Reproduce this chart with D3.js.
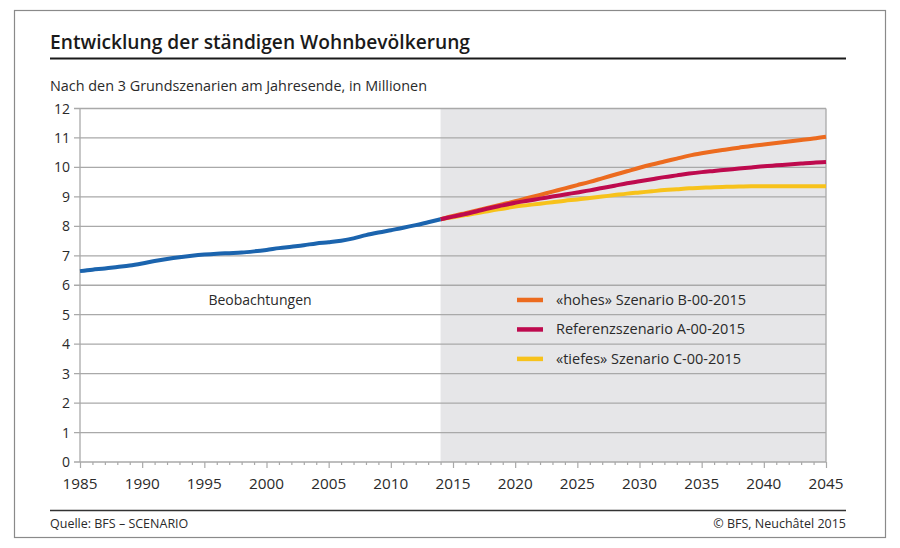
<!DOCTYPE html>
<html><head><meta charset="utf-8">
<script src="https://cdn.jsdelivr.net/npm/d3@7"></script>
<style>body{margin:0;background:#fff;} svg{display:block;font-family:"Open Sans","Noto Sans",sans-serif;}</style>
</head><body>
<svg id="c" width="900" height="548"></svg>
<script>
const obsYears = d3.range(1985, 2015);
const obsValues = [6.48,6.53,6.57,6.62,6.67,6.74,6.82,6.89,6.95,7.00,7.04,7.07,7.09,7.11,7.15,7.20,7.26,7.31,7.36,7.42,7.46,7.51,7.59,7.70,7.79,7.87,7.95,8.04,8.14,8.24];
const scenYears = d3.range(2014, 2046);
const highB = [8.24,8.35,8.45,8.55,8.65,8.75,8.85,8.96,9.07,9.18,9.29,9.40,9.51,9.63,9.75,9.87,9.99,10.1,10.2,10.3,10.4,10.48,10.55,10.61,10.67,10.73,10.78,10.83,10.88,10.93,10.98,11.04];
const refA = [8.24,8.33,8.42,8.52,8.62,8.71,8.80,8.87,8.94,9.01,9.08,9.15,9.22,9.30,9.38,9.46,9.53,9.60,9.67,9.73,9.79,9.84,9.88,9.92,9.96,10.00,10.04,10.07,10.10,10.13,10.16,10.18];
const lowC = [8.24,8.31,8.38,8.45,8.53,8.60,8.67,8.72,8.77,8.82,8.87,8.91,8.96,9.01,9.06,9.11,9.15,9.19,9.23,9.26,9.29,9.31,9.33,9.34,9.35,9.36,9.36,9.36,9.36,9.36,9.36,9.36];
const yTicks = [0,1,2,3,4,5,6,7,8,9,10,11,12];
const xTicks = [1985,1990,1995,2000,2005,2010,2015,2020,2025,2030,2035,2040,2045];
const legendLabels = ["«hohes» Szenario B-00-2015","Referenzszenario A-00-2015","«tiefes» Szenario C-00-2015"];
const colors = {obs:"#1b64ae", B:"#ec6b1f", A:"#be0a4e", C:"#f7c21b"};

const svg = d3.select("#c");
const L=80, R=826, T=108.5, B=462;
const x = d3.scaleLinear().domain([1985,2045]).range([L,R]);
const y = d3.scaleLinear().domain([0,12]).range([B,T]);

svg.append("rect").attr("x",14.5).attr("y",10.5).attr("width",871).attr("height",527).attr("fill","none").attr("stroke","#8a8a8a").attr("stroke-width",1.2);
svg.append("text").attr("x",50).attr("y",49).attr("font-size",19).attr("font-weight",600).attr("fill","#1a1a1a")
  .attr("textLength",420).attr("lengthAdjust","spacingAndGlyphs").text("Entwicklung der ständigen Wohnbevölkerung");
svg.append("line").attr("x1",50).attr("x2",846).attr("y1",58.5).attr("y2",58.5).attr("stroke","#1a1a1a").attr("stroke-width",2.2);
svg.append("text").attr("x",50).attr("y",91).attr("font-size",14).attr("fill","#2a2a2a")
  .attr("textLength",377).attr("lengthAdjust","spacingAndGlyphs").text("Nach den 3 Grundszenarien am Jahresende, in Millionen");

svg.append("rect").attr("x",x(2014)).attr("y",T).attr("width",x(2045)-x(2014)).attr("height",B-T).attr("fill","#e6e6e8");

svg.append("g").selectAll("line").data(yTicks).join("line")
  .attr("x1",L-6).attr("x2",R).attr("y1",d=>y(d)).attr("y2",d=>y(d))
  .attr("stroke","#a9a9a9").attr("stroke-width",1.3);
svg.append("line").attr("x1",L).attr("x2",L).attr("y1",T).attr("y2",B).attr("stroke","#a9a9a9").attr("stroke-width",1.3);
svg.append("line").attr("x1",R).attr("x2",R).attr("y1",T).attr("y2",B).attr("stroke","#a9a9a9").attr("stroke-width",1.3);

svg.append("g").selectAll("text").data(yTicks).join("text")
  .attr("x",70).attr("y",d=>y(d)+5).attr("text-anchor","end").attr("font-size",14).attr("fill","#2a2a2a").text(d=>d);

const xAxis = d3.axisBottom(x).tickValues(d3.range(1985,2046)).tickSize(4).tickFormat("");
const gx = svg.append("g").attr("transform",`translate(0,${B})`).call(xAxis);
gx.select(".domain").remove();
gx.selectAll("line").attr("stroke","#a9a9a9").attr("stroke-width",1.2).attr("y2",d=>d%5===0?6:3);
svg.append("g").selectAll("text").data(xTicks).join("text")
  .attr("x",d=>x(d)).attr("y",489).attr("text-anchor","middle").attr("font-size",14.5).attr("fill","#2a2a2a")
  .attr("textLength",35).attr("lengthAdjust","spacingAndGlyphs").text(d=>d);

const line = d3.line().x(d=>x(d[0])).y(d=>y(d[1])).curve(d3.curveMonotoneX);
const draw = (yrs, vals, col) => svg.append("path").datum(yrs.map((v,i)=>[v,vals[i]]))
  .attr("d",line).attr("fill","none").attr("stroke",col).attr("stroke-width",4).attr("stroke-linecap","butt");
draw(scenYears, lowC, colors.C);
draw(scenYears, highB, colors.B);
draw(scenYears, refA, colors.A);
draw(obsYears, obsValues, colors.obs);

svg.append("text").attr("x",260).attr("y",305).attr("text-anchor","middle").attr("font-size",14).attr("fill","#2a2a2a").text("Beobachtungen");
const legCols = [colors.B, colors.A, colors.C];
const lg = svg.append("g");
legendLabels.forEach((t,i)=>{
  const yy = (y(6-i)+y(5-i))/2;
  lg.append("line").attr("x1",517).attr("x2",543).attr("y1",yy).attr("y2",yy).attr("stroke",legCols[i]).attr("stroke-width",4.5);
  lg.append("text").attr("x",556).attr("y",yy+5).attr("font-size",14.5).attr("fill","#2a2a2a").text(t);
});

svg.append("line").attr("x1",50).attr("x2",846).attr("y1",510.5).attr("y2",510.5).attr("stroke","#333").attr("stroke-width",1.3);
svg.append("text").attr("x",50).attr("y",528).attr("font-size",12.5).attr("fill","#2a2a2a").text("Quelle: BFS – SCENARIO");
svg.append("text").attr("x",846).attr("y",528).attr("text-anchor","end").attr("font-size",12.5).attr("fill","#2a2a2a").text("© BFS, Neuchâtel 2015");
</script>
</body></html>
